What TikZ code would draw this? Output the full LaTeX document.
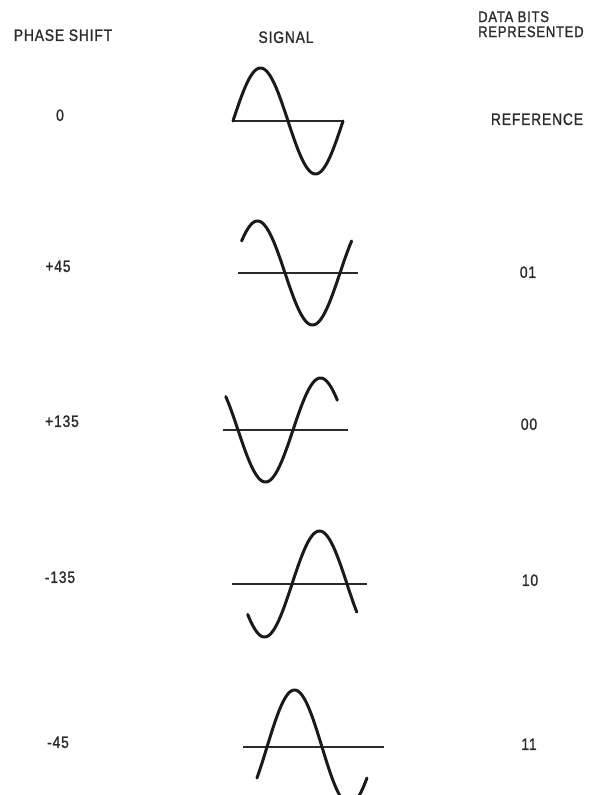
\documentclass[tikz,border=0pt]{standalone}
\usepackage{fontspec}
\setmainfont{Liberation Sans}[FakeStretch=0.84,LetterSpace=5,FakeBold=1.2]
\definecolor{ink}{HTML}{2A2A2A}
\definecolor{wave}{HTML}{1A1A1A}
\tikzset{
  lbl/.style={text=ink,font=\fontsize{16.5}{16.5}\selectfont,inner sep=0pt,text height=11.8pt,text depth=0pt},
  hdr/.style={lbl,font=\fontsize{15.5}{15.5}\selectfont,text height=11.1pt},
  sig/.style={draw=wave,line width=3pt,line cap=round,line join=round},
  axisline/.style={draw=ink,line width=1.3pt}
}
\begin{document}
\begin{tikzpicture}[x=1pt,y=-1pt]
\useasboundingbox (0,0) rectangle (599,795);
\clip (0,0) rectangle (599,795);
% headers
\node[lbl] (hps) at (63,35) {PHASE SHIFT};
\node[lbl] (hsig) at (286,37) {SIGNAL};
\node[hdr,anchor=west] (hdb1) at (478,16.5) {DATA BITS};
\node[hdr,anchor=west] (hdb2) at (478,31.5) {REPRESENTED};
% phase labels
\node[lbl] (p0) at (60,115) {0};
\node[lbl] (p1) at (58,266) {+45};
\node[lbl] (p2) at (62,421) {+135};
\node[lbl] (p3) at (60,577) {-135};
\node[lbl] (p4) at (58,742) {-45};
% bits labels
\node[lbl] (b0) at (537,119) {REFERENCE};
\node[lbl] (b1) at (528,272) {01};
\node[lbl] (b2) at (529,424) {00};
\node[lbl] (b3) at (530,580) {10};
\node[lbl] (b4) at (529,744) {11};
% wave 1: 0
\draw[axisline] (233,121) -- (343,121);
\draw[sig] plot[domain=0:360,samples=121] ({233+0.305556*\x},{121-53*sin(\x)});
% wave 2: +45
\draw[axisline] (238,273) -- (358,273);
\draw[sig] plot[domain=38:398,samples=121] ({230+0.305556*\x},{273-52*sin(\x)});
% wave 3: +135
\draw[axisline] (223,430) -- (348,430);
\draw[sig] plot[domain=140:505,samples=121] ({183+0.305556*\x},{430-52*sin(\x)});
% wave 4: -135
\draw[axisline] (232,584) -- (367,584);
\draw[sig] plot[domain=-145:212,samples=121] ({292+0.305556*\x},{584-53*sin(\x)});
% wave 5: -45
\draw[axisline] (243,747) -- (384,747);
\draw[sig] plot[domain=-33:327,samples=121] ({267+0.305556*\x},{747-57*sin(\x)});
\end{tikzpicture}
\end{document}
